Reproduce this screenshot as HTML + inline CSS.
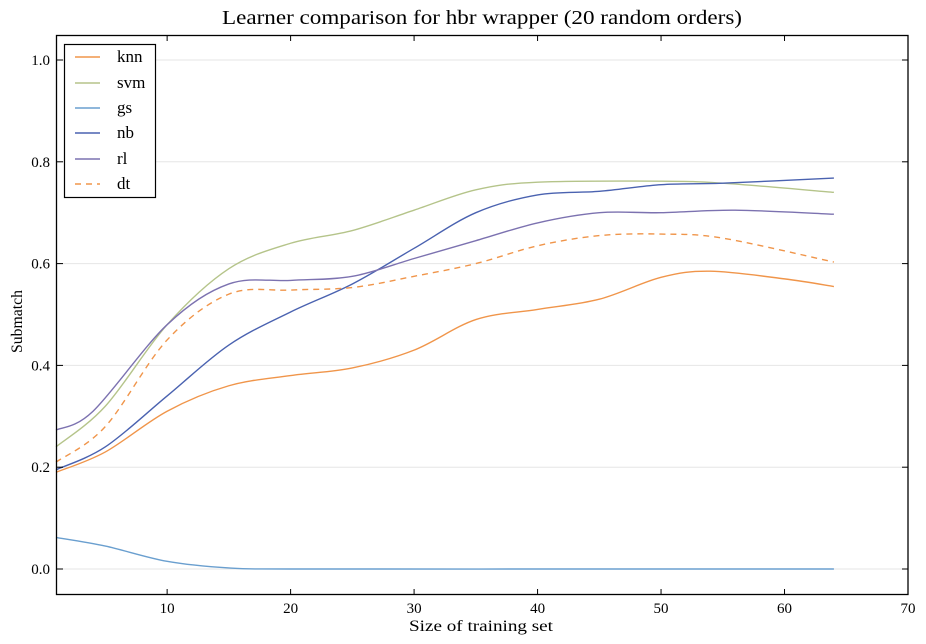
<!DOCTYPE html>
<html><head><meta charset="utf-8"><style>
html,body{margin:0;padding:0;background:#fff;}
svg{display:block;font-family:"Liberation Serif",serif;}
</style></head><body>
<svg id="s" width="926" height="644" xmlns="http://www.w3.org/2000/svg">
<rect width="926" height="644" fill="#fff"/>
<text x="222" y="24" font-size="20" textLength="520" lengthAdjust="spacingAndGlyphs">Learner comparison for hbr wrapper (20 random orders)</text>
<g id="grid"></g>
<g id="curves" fill="none" stroke-width="1.4"></g>
<rect x="56.5" y="35.5" width="851.5" height="559" fill="none" stroke="#000" stroke-width="1.3"/>
<g id="ticks" stroke="#000" stroke-width="1"></g>
<g id="labels" font-size="15"></g>
<text x="409" y="631" font-size="16" textLength="144" lengthAdjust="spacingAndGlyphs">Size of training set</text>
<text transform="translate(22,353) rotate(-90)" font-size="16" textLength="63" lengthAdjust="spacingAndGlyphs">Submatch</text>
<g>
<rect x="64.5" y="44.5" width="91" height="153" fill="#fff" stroke="#000" stroke-width="1.2"/>
<g stroke-width="1.4">
<line x1="75" y1="57" x2="100" y2="57" stroke="#f0954a"/>
<line x1="75" y1="83" x2="100" y2="83" stroke="#b5c48a"/>
<line x1="75" y1="108" x2="100" y2="108" stroke="#6a9fcf"/>
<line x1="75" y1="133" x2="100" y2="133" stroke="#4a62b0"/>
<line x1="75" y1="159" x2="100" y2="159" stroke="#7c72b0"/>
<line x1="75" y1="184" x2="100" y2="184" stroke="#f0954a" stroke-dasharray="6,5"/>
</g>
<g font-size="17">
<text x="117" y="62">knn</text><text x="117" y="88">svm</text><text x="117" y="113">gs</text>
<text x="117" y="138">nb</text><text x="117" y="164">rl</text><text x="117" y="189">dt</text>
</g></g>
</svg>
<script>
const NS="http://www.w3.org/2000/svg";
const X=v=>56+(v-1)*(908-56)/69, Y=v=>569-v*509;
function el(p,t,a,txt){const e=document.createElementNS(NS,t);for(const k in a)e.setAttribute(k,a[k]);if(txt!=null)e.textContent=txt;document.getElementById(p).appendChild(e);}
for(let i=0;i<=10;i+=2){const y=Y(i/10);el("grid","line",{x1:57,x2:908,y1:y,y2:y,stroke:"#e6e6e6","stroke-width":1});
el("ticks","line",{x1:57,x2:63,y1:y,y2:y});el("ticks","line",{x1:902,x2:908,y1:y,y2:y});
el("labels","text",{x:50,y:y+5,"text-anchor":"end"},(i/10).toFixed(1));}
for(let v=10;v<=70;v+=10){const x=X(v);el("ticks","line",{x1:x,x2:x,y1:589,y2:595});el("ticks","line",{x1:x,x2:x,y1:35,y2:41});
el("labels","text",{x:x,y:613,"text-anchor":"middle"},v);}
function path(pts){const P=pts.map(p=>[X(p[0]),Y(p[1])]);let d="M"+P[0];for(let i=0;i<P.length-1;i++){const p0=P[i-1]||P[i],p1=P[i],p2=P[i+1],p3=P[i+2]||p2;
const c1=[p1[0]+(p2[0]-p0[0])/6,p1[1]+(p2[1]-p0[1])/6],c2=[p2[0]-(p3[0]-p1[0])/6,p2[1]-(p3[1]-p1[1])/6];d+=" C"+c1+" "+c2+" "+p2;}return d;}
const S=[
["#f0954a",[[1,.19],[5,.23],[10,.31],[15,.36],[20,.38],[25,.395],[30,.43],[35,.49],[40,.51],[45,.53],[50,.573],[54,.585],[60,.57],[64,.555]]],
["#b5c48a",[[1,.24],[5,.32],[10,.48],[15,.59],[20,.64],[25,.665],[30,.705],[35,.745],[40,.76],[50,.762],[55,.758],[64,.74]]],
["#6a9fcf",[[1,.062],[5,.045],[10,.015],[15,.002],[20,0],[40,0],[64,0]]],
["#4a62b0",[[1,.195],[5,.24],[10,.34],[15,.44],[20,.505],[25,.56],[30,.63],[35,.7],[40,.735],[45,.742],[50,.755],[55,.758],[64,.768]]],
["#7c72b0",[[1,.273],[4,.31],[10,.48],[15,.56],[20,.567],[25,.575],[30,.61],[35,.645],[40,.68],[45,.7],[50,.7],[56,.705],[64,.697]]],
["#f0954a",[[1,.21],[5,.28],[10,.45],[15,.54],[20,.548],[25,.553],[30,.575],[35,.6],[40,.635],[45,.655],[50,.658],[55,.65],[64,.603]],"6,5"]];
S.forEach(s=>{const a={d:path(s[1]),stroke:s[0]};if(s[2])a["stroke-dasharray"]=s[2];el("curves","path",a);});
</script>
</body></html>
